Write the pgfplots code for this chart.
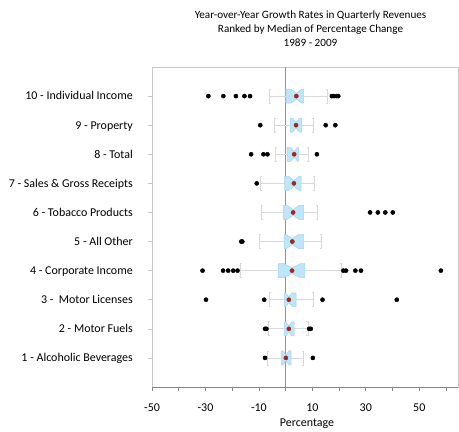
\documentclass[border=0pt]{standalone}
\usepackage{pgfplots}
\pgfplotsset{compat=1.18}
\usepackage{fontspec}
\setmainfont{Carlito}

\definecolor{boxfill}{RGB}{190,229,248}
\definecolor{boxedge}{RGB}{166,212,236}
\definecolor{whisk}{RGB}{217,217,217}
\definecolor{medred}{RGB}{158,40,30}
\definecolor{zeroline}{RGB}{196,128,122}
\definecolor{framegray}{RGB}{200,200,200}
\definecolor{basegray}{RGB}{134,134,134}

% bracket-shaped whisker caps
\pgfdeclareplotmark{lcap}{%
  \pgfpathmoveto{\pgfpoint{1.6bp}{-\pgfplotmarksize}}%
  \pgfpathlineto{\pgfpoint{0pt}{-\pgfplotmarksize}}%
  \pgfpathlineto{\pgfpoint{0pt}{\pgfplotmarksize}}%
  \pgfpathlineto{\pgfpoint{1.6bp}{\pgfplotmarksize}}%
  \pgfusepathqstroke}
\pgfdeclareplotmark{rcap}{%
  \pgfpathmoveto{\pgfpoint{-1.6bp}{-\pgfplotmarksize}}%
  \pgfpathlineto{\pgfpoint{0pt}{-\pgfplotmarksize}}%
  \pgfpathlineto{\pgfpoint{0pt}{\pgfplotmarksize}}%
  \pgfpathlineto{\pgfpoint{-1.6bp}{\pgfplotmarksize}}%
  \pgfusepathqstroke}

% notched box: #1 row, #2 lower whisker, #3 Q1, #4 notch left,
% #5 median, #6 notch right, #7 Q3, #8 upper whisker
\newcommand\notchbox[8]{%
  \pgfmathsetmacro\ylo{#1-0.24}%
  \pgfmathsetmacro\yhi{#1+0.24}%
  \pgfmathsetmacro\nlo{#1-0.10}%
  \pgfmathsetmacro\nhi{#1+0.10}%
  \addplot[whisk, line width=0.8bp] coordinates {(#2,#1) (#3,#1)};
  \addplot[whisk, line width=0.8bp] coordinates {(#7,#1) (#8,#1)};
  \addplot[whisk, only marks, mark=lcap, mark size=7bp, mark options={line width=0.8bp}] coordinates {(#2,#1)};
  \addplot[whisk, only marks, mark=rcap, mark size=7bp, mark options={line width=0.8bp}] coordinates {(#8,#1)};
  \edef\tmp{\noexpand\addplot[fill=boxfill, draw=boxedge, line width=0.5bp]
    coordinates {(#3,\ylo) (#4,\ylo) (#5,\nlo) (#6,\ylo) (#7,\ylo)
                 (#7,\yhi) (#6,\yhi) (#5,\nhi) (#4,\yhi) (#3,\yhi)} -- cycle;}%
  \tmp
  \addplot[medred, only marks, mark=*, mark size=2.1bp] coordinates {(#5,#1)};
}

\begin{document}
\begin{tikzpicture}
\begin{axis}[
  name=ax, at={(0,0)}, anchor=south west,
  scale only axis, width=306bp, height=320bp,
  xmin=-50, xmax=64.5, ymin=0, ymax=11,
  xtick={-50,-30,...,50}, minor xtick={-40,-20,...,60},
  ytick={1,...,10},
  yticklabels={1 - Alcoholic Beverages, 2 - Motor Fuels\hspace{5bp}, 3 -\ \ Motor Licenses,
    4 - Corporate Income, 5 - All Other\hspace{6bp}, 6 - Tobacco Products,
    7 - Sales \& Gross Receipts, 8 - Total\hspace{7bp}, 9 - Property\hspace{5bp},
    10 - Individual Income},
  tick align=outside, xtick pos=left, ytick pos=left,
  major tick length=4bp, minor tick length=4bp,
  xtick style={basegray, line width=0.6bp},
  ytick style={framegray, line width=0.6bp},
  axis line style={framegray, line width=0.8bp},
  tick label style={font=\fontsize{12}{14}\selectfont},
  /pgf/number format/assume math mode=true,
  xticklabel style={anchor=base, yshift=-20.5bp},
  yticklabel style={anchor=base east, inner sep=0pt, xshift=-15bp, yshift=-3.9bp},
]
% reference line at zero growth
\addplot[zeroline, line width=0.7bp] coordinates {(0,0) (0,11)};

\notchbox{10}{-6.1}{0.1}{2.0}{4.0}{6.0}{6.7}{15.8}
\notchbox{9}{-4.2}{1.7}{2.6}{3.9}{5.2}{6.0}{10.4}
\notchbox{8}{-3.8}{0.6}{1.9}{3.2}{4.5}{4.8}{8.5}
\notchbox{7}{-9.3}{-0.4}{1.2}{3.1}{5.0}{5.8}{10.8}
\notchbox{6}{-9.2}{-0.8}{0.6}{2.8}{5.0}{6.7}{11.9}
\notchbox{5}{-9.9}{-0.6}{0.3}{2.5}{4.7}{6.7}{13.3}
\notchbox{4}{-17.0}{-2.7}{-0.6}{2.4}{5.4}{7.2}{21.0}
\notchbox{3}{-5.9}{-0.6}{-0.15}{1.2}{2.55}{3.9}{10.4}
\notchbox{2}{-6.3}{-0.6}{0.1}{1.2}{2.3}{3.2}{8.4}
\notchbox{1}{-7.0}{-1.6}{-1.0}{0.1}{1.2}{2.1}{6.8}

% outliers
\addplot[black, only marks, mark=*, mark size=2.1bp] coordinates {
  (-28.9,10) (-23.3,10) (-18.6,10) (-15.4,10) (-13.3,10)
  (17.3,10) (18.1,10) (19.1,10) (19.7,10)
  (-9.5,9) (15.0,9) (18.6,9)
  (-12.9,8) (-8.3,8) (-6.8,8) (11.7,8)
  (-10.8,7)
  (31.6,6) (34.5,6) (37.3,6) (40.1,6)
  (-16.6,5) (-16.2,5)
  (-31.1,4) (-23.4,4) (-21.5,4) (-19.6,4) (-18.0,4)
  (21.6,4) (22.6,4) (26.1,4) (28.2,4) (58.1,4)
  (-29.8,3) (-8.0,3) (13.8,3) (41.6,3)
  (-7.7,2) (-7.2,2) (8.8,2) (9.4,2)
  (-7.7,1) (10.2,1)
};
\draw[basegray, line width=0.8bp] (rel axis cs:0,0) -- (rel axis cs:1,0);
\end{axis}
\begin{scope}[font=\fontsize{11.2}{13}\selectfont]
\node[anchor=base] at ([xshift=5.5bp, yshift=48.7bp]ax.north) {Year-over-Year Growth Rates in Quarterly Revenues};
\node[anchor=base] at ([xshift=5.5bp, yshift=34.4bp]ax.north) {Ranked by Median of Percentage Change};
\node[anchor=base] at ([xshift=5.5bp, yshift=20.1bp]ax.north) {1989 - 2009};
\end{scope}
\node[anchor=base, font=\fontsize{12}{14}\selectfont] at ([xshift=2bp, yshift=-39bp]ax.south) {Percentage};
\path ([shift={(-152bp,-44bp)}]ax.south west) rectangle ([shift={(307bp,387bp)}]ax.south west);
\end{tikzpicture}
\end{document}
